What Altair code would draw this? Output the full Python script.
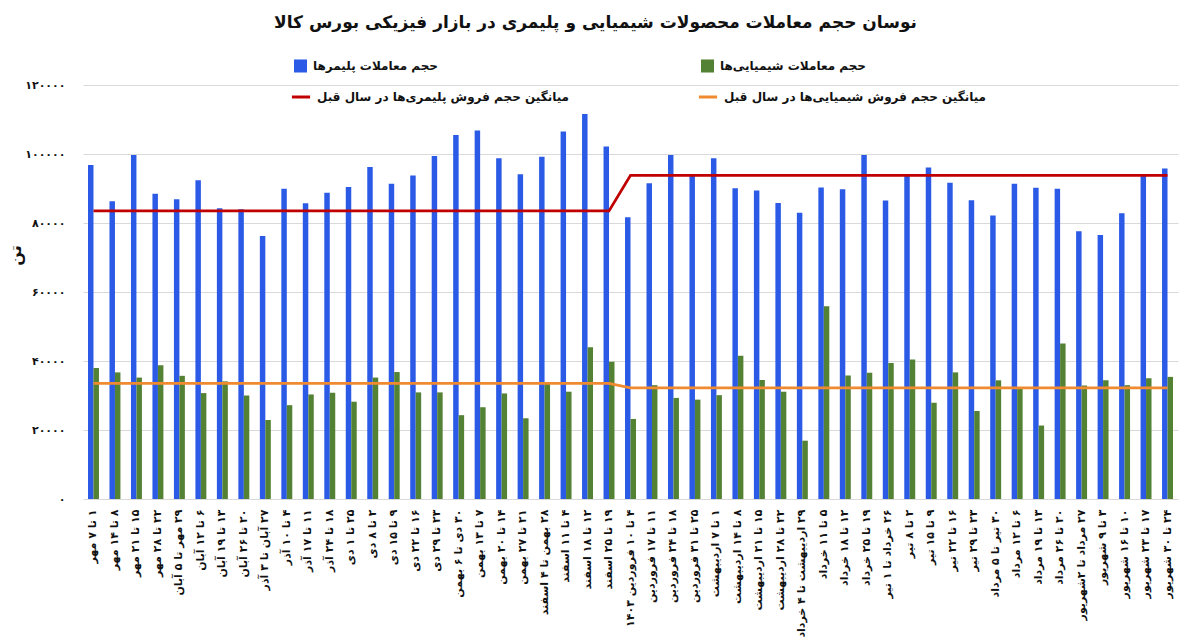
import altair as alt
import pandas as pd

# ---------------- data ----------------
weeks = [
    "۱ تا ۷ مهر", "۸ تا ۱۴ مهر", "۱۵ تا ۲۱ مهر", "۲۲ تا ۲۸ مهر", "۲۹ مهر تا ۵ آبان",
    "۶ تا ۱۲ آبان", "۱۳ تا ۱۹ آبان", "۲۰ تا ۲۶ آبان", "۲۷ آبان تا ۳ آذر", "۴ تا ۱۰ آذر",
    "۱۱ تا ۱۷ آذر", "۱۸ تا ۲۴ آذر", "۲۵ تا ۱ دی",
    "۲ تا ۸ دی", "۹ تا ۱۵ دی", "۱۶ تا ۲۲ دی", "۲۳ تا ۲۹ دی", "۳۰ دی تا ۶ بهمن",
    "۷ تا ۱۳ بهمن", "۱۴ تا ۲۰ بهمن", "۲۱ تا ۲۷ بهمن", "۲۸ بهمن تا ۴ اسفند", "۴ تا ۱۱ اسفند",
    "۱۲ تا ۱۸ اسفند", "۱۹ تا ۲۵ اسفند",
    "۴ تا ۱۰ فروردین ۱۴۰۳", "۱۱ تا ۱۷ فروردین", "۱۸ تا ۲۴ فروردین", "۲۵ تا ۳۱ فروردین",
    "۱ تا ۷ اردیبهشت", "۸ تا ۱۴ اردیبهشت", "۱۵ تا ۲۱ اردیبهشت", "۲۲ تا ۲۸ اردیبهشت",
    "۲۹ اردیبهشت تا ۴ خرداد", "۵ تا ۱۱ خرداد", "۱۲ تا ۱۸ خرداد", "۱۹ تا ۲۵ خرداد",
    "۲۶ خرداد تا ۱ تیر",
    "۲ تا ۸ تیر", "۹ تا ۱۵ تیر", "۱۶ تا ۲۲ تیر", "۲۳ تا ۲۹ تیر", "۳۰ تیر تا ۵ مرداد",
    "۶ تا ۱۲ مرداد", "۱۳ تا ۱۹ مرداد", "۲۰ تا ۲۶ مرداد", "۲۷ مرداد تا ۲شهریور",
    "۳ تا ۹ شهریور", "۱۰ تا ۱۶ شهریور", "۱۷ تا ۲۳ شهریور", "۲۴ تا ۳۰ شهریور",
]

polymer_trades = [
    96800, 86300, 99700, 88500, 86900, 92400, 84300, 84000, 76200, 89900, 85700, 88800, 90400,
    96200, 91400, 93800, 99400, 105500, 106800, 98800, 94100, 99200, 106500, 111600, 102200,
    81700, 91500, 99700, 93700, 98800, 90100, 89400, 85800, 83000, 90300, 89800, 99700, 86500,
    94100, 96100, 91700, 86600, 82200, 91400, 90200, 89900, 77600, 76500, 82800, 93900, 95800,
]

chemical_trades = [
    38000, 36700, 35200, 38800, 35700, 30700, 34100, 30000, 22900, 27200, 30300, 30800, 28200,
    35200, 36800, 30900, 30900, 24300, 26600, 30600, 23400, 33500, 31100, 44000, 39800,
    23200, 33000, 29300, 28800, 30100, 41500, 34500, 31100, 16900, 55900, 35800, 36600, 39400,
    40400, 27900, 36700, 25500, 34400, 32200, 21300, 45100, 32900, 34400, 33000, 35000, 35400,
]

polymer_prev_year_avg = [
    83500, 83500, 83500, 83500, 83500, 83500, 83500, 83500, 83500, 83500, 83500, 83500, 83500,
    83500, 83500, 83500, 83500, 83500, 83500, 83500, 83500, 83500, 83500, 83500, 83500,
    93800, 93800, 93800, 93800, 93800, 93800, 93800, 93800, 93800, 93800, 93800, 93800, 93800,
    93800, 93800, 93800, 93800, 93800, 93800, 93800, 93800, 93800, 93800, 93800, 93800, 93800,
]

chemical_prev_year_avg = [
    33500, 33500, 33500, 33500, 33500, 33500, 33500, 33500, 33500, 33500, 33500, 33500, 33500,
    33500, 33500, 33500, 33500, 33500, 33500, 33500, 33500, 33500, 33500, 33500, 33500,
    32200, 32200, 32200, 32200, 32200, 32200, 32200, 32200, 32200, 32200, 32200, 32200, 32200,
    32200, 32200, 32200, 32200, 32200, 32200, 32200, 32200, 32200, 32200, 32200, 32200, 32200,
]

S_POLY = "حجم معاملات پلیمرها"
S_CHEM = "حجم معاملات شیمیایی‌ها"
S_POLY_AVG = "میانگین حجم فروش پلیمری‌ها در سال قبل"
S_CHEM_AVG = "میانگین حجم فروش شیمیایی‌ها در سال قبل"

TITLE = "نوسان حجم معاملات محصولات شیمیایی و پلیمری در بازار فیزیکی بورس کالا"
Y_TITLE = "تن"
y_ticks = [0, 20000, 40000, 60000, 80000, 100000, 120000]

# ---------------- tables ----------------
bars_df = pd.concat([
    pd.DataFrame({"week": weeks, "series": S_POLY, "value": polymer_trades}),
    pd.DataFrame({"week": weeks, "series": S_CHEM, "value": chemical_trades}),
])
lines_df = pd.concat([
    pd.DataFrame({"week": weeks, "series": S_POLY_AVG, "value": polymer_prev_year_avg}),
    pd.DataFrame({"week": weeks, "series": S_CHEM_AVG, "value": chemical_prev_year_avg}),
])

FONT = "DejaVu Sans"
BLUE, GREEN, RED, ORANGE = "#2b5be6", "#548235", "#c00000", "#f08a30"
TXT = "#111111"

persian = "۰۱۲۳۴۵۶۷۸۹"
y_label_expr = "datum.label"
for d in range(10):
    y_label_expr = f"replace({y_label_expr}, regexp('{d}', 'g'), '{persian[d]}')"

RLM = "\u200f"

x_enc = alt.X(
    "week:N",
    sort=weeks,
    scale=alt.Scale(paddingInner=0.49, paddingOuter=0.233),
    axis=alt.Axis(
        title=None, labelAngle=270, ticks=False, domain=False, grid=False,
        labelFont=FONT, labelFontSize=11, labelFontWeight="bold", labelColor=TXT,
        labelPadding=10, labelLimit=135, labelExpr=f"'{RLM}' + datum.label",
    ),
)
y_enc = alt.Y(
    "value:Q",
    scale=alt.Scale(domain=[0, 120000], nice=False),
    axis=alt.Axis(
        title=Y_TITLE, values=y_ticks, format="d", labelExpr=y_label_expr,
        ticks=False, domain=False, grid=True, gridColor="#d9d9d9", gridWidth=1,
        labelFont=FONT, labelFontSize=11, labelFontWeight="bold", labelColor=TXT,
        labelPadding=18, titleFont=FONT, titleFontSize=16, titleFontWeight="bold",
        titleColor=TXT, titleX=-60, titleY=170,
    ),
)

legend_common = dict(
    title=None, orient="none", columns=2, direction="horizontal", padding=0,
    labelFont=FONT, labelFontSize=12, labelFontWeight="bold", labelColor=TXT,
    labelLimit=400, labelOffset=5,
)

bars = alt.Chart(bars_df).mark_bar().encode(
    x=x_enc,
    xOffset=alt.XOffset("series:N", sort=[S_POLY, S_CHEM],
                        scale=alt.Scale(paddingInner=0, paddingOuter=0)),
    y=y_enc,
    fill=alt.Fill(
        "series:N",
        scale=alt.Scale(domain=[S_POLY, S_CHEM], range=[BLUE, GREEN]),
        legend=alt.Legend(legendX=210, legendY=-27, columnPadding=261,
                          symbolType="square", symbolSize=170, **legend_common),
    ),
)

lines = alt.Chart(lines_df).mark_line(strokeWidth=2.8).encode(
    x=x_enc,
    y=y_enc,
    stroke=alt.Stroke(
        "series:N",
        scale=alt.Scale(domain=[S_POLY_AVG, S_CHEM_AVG], range=[RED, ORANGE]),
        legend=alt.Legend(legendX=207, legendY=1, columnPadding=122,
                          symbolType="stroke", symbolSize=330, symbolStrokeWidth=3,
                          **legend_common),
    ),
)

chart = alt.layer(bars, lines).resolve_scale(
    fill="independent", stroke="independent"
).properties(
    width=1095,
    height=414,
    autosize=alt.AutoSizeParams(type="none"),
    padding={"left": 83, "top": 85, "right": 22, "bottom": 143},
    background="white",
    title=alt.TitleParams(
        text=TITLE, font=FONT, fontSize=17, fontWeight="bold", color=TXT,
        anchor="middle", frame="group", dx=-35, offset=26,
    ),
).configure_view(stroke=None)

chart.save("out.html", embed_options={"renderer": "svg", "actions": False})
